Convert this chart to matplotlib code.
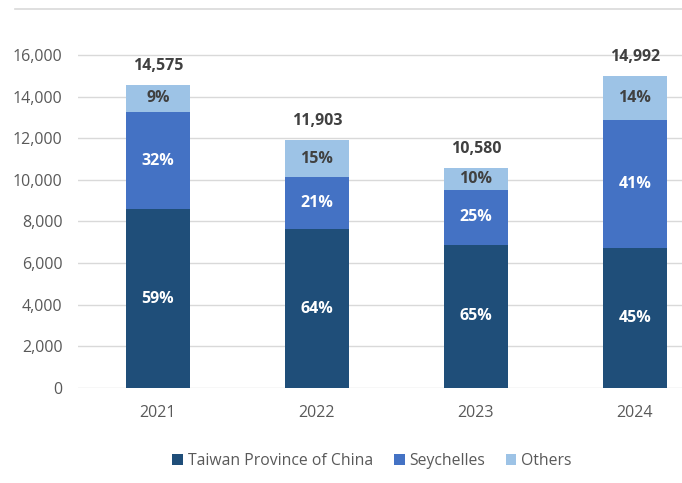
import numpy as np
import matplotlib
matplotlib.use("Agg")
from matplotlib import pyplot as plt
from matplotlib.lines import Line2D

years = ["2021", "2022", "2023", "2024"]
taiwan = [8600, 7620, 6880, 6750]
seychelles = [4660, 2500, 2640, 6150]
others = [1315, 1783, 1060, 2092]
totals = [14575, 11903, 10580, 14992]
pct_taiwan = ["59%", "64%", "65%", "45%"]
pct_seychelles = ["32%", "21%", "25%", "41%"]
pct_others = ["9%", "15%", "10%", "14%"]

plt.rcParams['font.family'] = ['Open Sans', 'DejaVu Sans']

fig = plt.figure(figsize=(6.82, 4.83), dpi=100)
ax = fig.add_axes([78 / 682, 95 / 483, 1 - 78 / 682, (388 - 9) / 483])

x = np.arange(len(years))
w = 0.4
c_tw, c_sy, c_ot = '#1F4E79', '#4472C4', '#9DC3E6'

b1 = ax.bar(x, taiwan, w, color=c_tw, label='Taiwan Province of China', zorder=3)
b2 = ax.bar(x, seychelles, w, bottom=taiwan, color=c_sy, label='Seychelles', zorder=3)
bot3 = np.array(taiwan) + np.array(seychelles)
b3 = ax.bar(x, others, w, bottom=bot3, color=c_ot, label='Others', zorder=3)

for i in range(len(years)):
    ax.text(x[i], taiwan[i] / 2, pct_taiwan[i], ha='center', va='center',
            color='white', fontsize=11.5, fontweight='bold', zorder=4)
    ax.text(x[i], taiwan[i] + seychelles[i] / 2, pct_seychelles[i], ha='center', va='center',
            color='white', fontsize=11.5, fontweight='bold', zorder=4)
    ax.text(x[i], bot3[i] + others[i] / 2, pct_others[i], ha='center', va='center',
            color='#404040', fontsize=11.5, fontweight='bold', zorder=4)
    ax.annotate(f"{totals[i]:,}", (x[i], totals[i]), xytext=(0, 8), textcoords='offset points',
                ha='center', va='bottom', color='#404040', fontsize=11.5, fontweight='bold')

ax.set_xlim(-0.503, 3.296)
ax.set_ylim(0, 18210)
ax.set_yticks(range(0, 16001, 2000))
ax.set_yticklabels([f"{v:,}" for v in range(0, 16001, 2000)])
ax.set_xticks(x)
ax.set_xticklabels(years)
ax.tick_params(axis='both', length=0, labelsize=11.5, colors='#595959')
ax.tick_params(axis='y', pad=11)
ax.tick_params(axis='x', pad=12)
ax.grid(axis='y', color='#D9D9D9', linewidth=1, zorder=0)
for s in ax.spines.values():
    s.set_visible(False)

fig.add_artist(Line2D([15 / 682, 1], [1 - 9 / 483, 1 - 9 / 483], color='#D9D9D9', linewidth=1.2))

fig.legend(handles=[b1, b2, b3], loc='center', bbox_to_anchor=(372 / 682, 1 - 461 / 483),
           ncol=3, frameon=False, fontsize=11.3, handlelength=0.7, handleheight=0.7,
           handletextpad=0.3, columnspacing=1.3, labelcolor='#595959')

plt.savefig('out.png', dpi=100)
